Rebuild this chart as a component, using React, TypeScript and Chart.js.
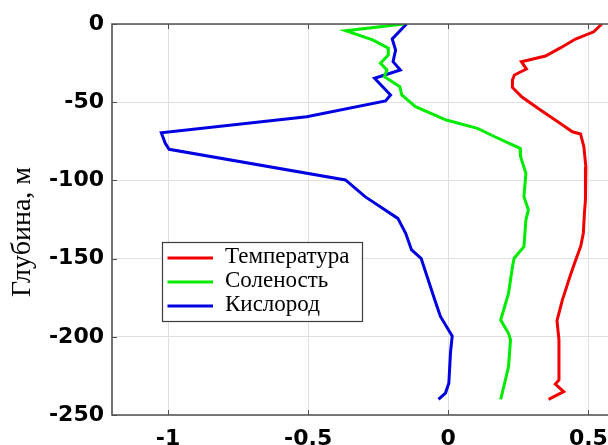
import React, { useEffect, useRef } from "react";
import { Chart, registerables } from "chart.js";

Chart.register(...registerables);

// ---- Data ----
const seriesLabels = ["Температура", "Соленость", "Кислород"];
const seriesColors = ["rgb(240,0,0)", "rgb(0,235,0)", "rgb(0,0,225)"];

const temperatureDepth = [0, -5, -9.6, -15.3, -20.5, -24.1, -28.8, -32.6, -35.8, -40.6, -46.7, -55, -63.6, -68.9, -70.3, -78.6, -91.4, -99.7, -112.5, -120.8, -133.6, -141.9, -149.8, -160.5, -176.5, -189.6, -202, -227.6, -230.2, -235.1, -240];
const temperatureValue = [0.548, 0.519, 0.454, 0.4, 0.347, 0.261, 0.279, 0.236, 0.229, 0.229, 0.263, 0.329, 0.4, 0.443, 0.472, 0.484, 0.491, 0.491, 0.488, 0.486, 0.482, 0.473, 0.457, 0.436, 0.407, 0.388, 0.395, 0.395, 0.382, 0.412, 0.358];

const salinityDepth = [0, -4.3, -10.2, -15.5, -19.8, -25.1, -29.4, -33.7, -40.1, -45.4, -52.9, -61.4, -66.7, -72.1, -79.5, -84.8, -95.5, -110.4, -118.9, -125.3, -142.4, -149.8, -155.2, -172.2, -189.3, -197.8, -202, -219.1, -229.7, -240];
const salinityValue = [-0.159, -0.366, -0.27, -0.214, -0.214, -0.242, -0.219, -0.228, -0.173, -0.166, -0.117, -0.007, 0.104, 0.166, 0.256, 0.258, 0.277, 0.27, 0.286, 0.277, 0.27, 0.235, 0.229, 0.215, 0.187, 0.215, 0.222, 0.215, 0.201, 0.187];

const oxygenDepth = [0, -9.6, -16.6, -24.1, -29.4, -34.7, -45.4, -49.2, -59.3, -69.5, -76.3, -80.1, -99.7, -110.4, -124.3, -133.8, -144.5, -149.8, -155.2, -176.5, -187, -199.5, -210, -229.7, -236, -240];
const oxygenValue = [-0.149, -0.2, -0.188, -0.197, -0.171, -0.263, -0.206, -0.224, -0.505, -1.024, -1.01, -0.996, -0.367, -0.297, -0.18, -0.152, -0.131, -0.097, -0.087, -0.048, -0.028, 0.014, 0.008, 0.002, -0.01, -0.035];

const xTicks = [-1, -0.5, 0, 0.5];
const yTicks = [-250, -200, -150, -100, -50, 0];
const yTitle = "Глубина, м";

const toPoints = (xs: number[], ys: number[]) => xs.map((x, i) => ({ x, y: ys[i] }));

const FRAME = "rgb(80,80,80)";

const framePlugin = {
  id: "frameAndLegend",
  afterDraw(chart: any) {
    const { ctx, chartArea } = chart;
    const { left, right, top, bottom } = chartArea;
    const xs = chart.scales.x;
    const ys = chart.scales.y;
    ctx.save();
    // inner ticks
    ctx.strokeStyle = FRAME;
    ctx.lineWidth = 1;
    ctx.beginPath();
    xTicks.forEach((v) => {
      const px = Math.round(xs.getPixelForValue(v)) + 0.5;
      ctx.moveTo(px, bottom);
      ctx.lineTo(px, bottom - 5);
      ctx.moveTo(px, top);
      ctx.lineTo(px, top + 5);
    });
    yTicks.forEach((v) => {
      const py = Math.round(ys.getPixelForValue(v)) + 0.5;
      ctx.moveTo(left, py);
      ctx.lineTo(left + 5, py);
    });
    ctx.stroke();
    // frame
    ctx.lineWidth = 1.6;
    ctx.beginPath();
    ctx.moveTo(right + 2, top);
    ctx.lineTo(left, top);
    ctx.lineTo(left, bottom);
    ctx.lineTo(right + 2, bottom);
    ctx.stroke();

    // y title
    ctx.fillStyle = "#000";
    ctx.font = "28px 'Liberation Serif', 'Times New Roman', serif";
    ctx.textAlign = "center";
    ctx.textBaseline = "middle";
    ctx.translate(23, 232);
    ctx.rotate(-Math.PI / 2);
    ctx.fillText(yTitle, 0, 0);
    ctx.restore();

    // legend
    ctx.save();
    const bx = 162.5, by = 242.5, bw = 200, bh = 79;
    ctx.fillStyle = "#fff";
    ctx.fillRect(bx, by, bw, bh);
    ctx.strokeStyle = "rgb(60,60,60)";
    ctx.lineWidth = 1.2;
    ctx.strokeRect(bx, by, bw, bh);
    ctx.font = "23px 'Liberation Serif', 'Times New Roman', serif";
    ctx.textAlign = "left";
    ctx.textBaseline = "middle";
    chart.data.datasets.forEach((ds: any, i: number) => {
      const ry = 258 + i * 24;
      ctx.strokeStyle = ds.borderColor;
      ctx.lineWidth = 3;
      ctx.beginPath();
      ctx.moveTo(167.5, ry);
      ctx.lineTo(213, ry);
      ctx.stroke();
      ctx.fillStyle = "#000";
      ctx.fillText(ds.label, 225, ry - 1);
    });
    ctx.restore();
  },
};

export default function App() {
  const ref = useRef<HTMLCanvasElement | null>(null);
  useEffect(() => {
    if (!ref.current) return;
    const tickFont = { family: "'DejaVu Sans', sans-serif", size: 22, weight: "bold" as const };
    const chart = new Chart(ref.current, {
      type: "scatter",
      data: {
        datasets: [
          { label: seriesLabels[0], data: toPoints(temperatureValue, temperatureDepth), borderColor: seriesColors[0], backgroundColor: seriesColors[0] },
          { label: seriesLabels[1], data: toPoints(salinityValue, salinityDepth), borderColor: seriesColors[1], backgroundColor: seriesColors[1] },
          { label: seriesLabels[2], data: toPoints(oxygenValue, oxygenDepth), borderColor: seriesColors[2], backgroundColor: seriesColors[2] },
        ].map((d) => ({ ...d, showLine: true, pointRadius: 0, borderWidth: 3, tension: 0, fill: false })),
      },
      options: {
        responsive: false,
        animation: false,
        layout: { padding: { top: 24, left: 0, right: 0, bottom: 0 } },
        plugins: { legend: { display: false }, tooltip: { enabled: false } },
        scales: {
          x: {
            type: "linear",
            min: -1.2,
            max: 0.57,
            afterBuildTicks: (s: any) => { s.ticks = xTicks.map((v) => ({ value: v })); },
            afterFit: (s: any) => { s.height = 30; s.paddingLeft = 0; s.paddingRight = 0; },
            ticks: { font: tickFont, color: "#000", padding: 11, callback: (v: any) => String(v) },
            grid: { color: "rgb(224,224,224)", drawTicks: false, lineWidth: 1 },
            border: { display: false },
          },
          y: {
            type: "linear",
            min: -250,
            max: 0,
            afterBuildTicks: (s: any) => { s.ticks = yTicks.map((v) => ({ value: v })); },
            afterFit: (s: any) => { s.width = 112; s.paddingTop = 0; s.paddingBottom = 0; },
            ticks: { font: tickFont, color: "#000", padding: 8, callback: (v: any) => String(v) },
            grid: { color: "rgb(224,224,224)", drawTicks: false, lineWidth: 1 },
            border: { display: false },
          },
        },
      },
      plugins: [framePlugin],
    });
    return () => chart.destroy();
  }, []);
  return (
    <div style={{ position: "fixed", left: 0, top: 0, width: 608, height: 445, overflow: "hidden", background: "#fff" }}>
      <canvas ref={ref} width={608} height={445} style={{ display: "block", width: 608, height: 445 }} />
    </div>
  );
}
